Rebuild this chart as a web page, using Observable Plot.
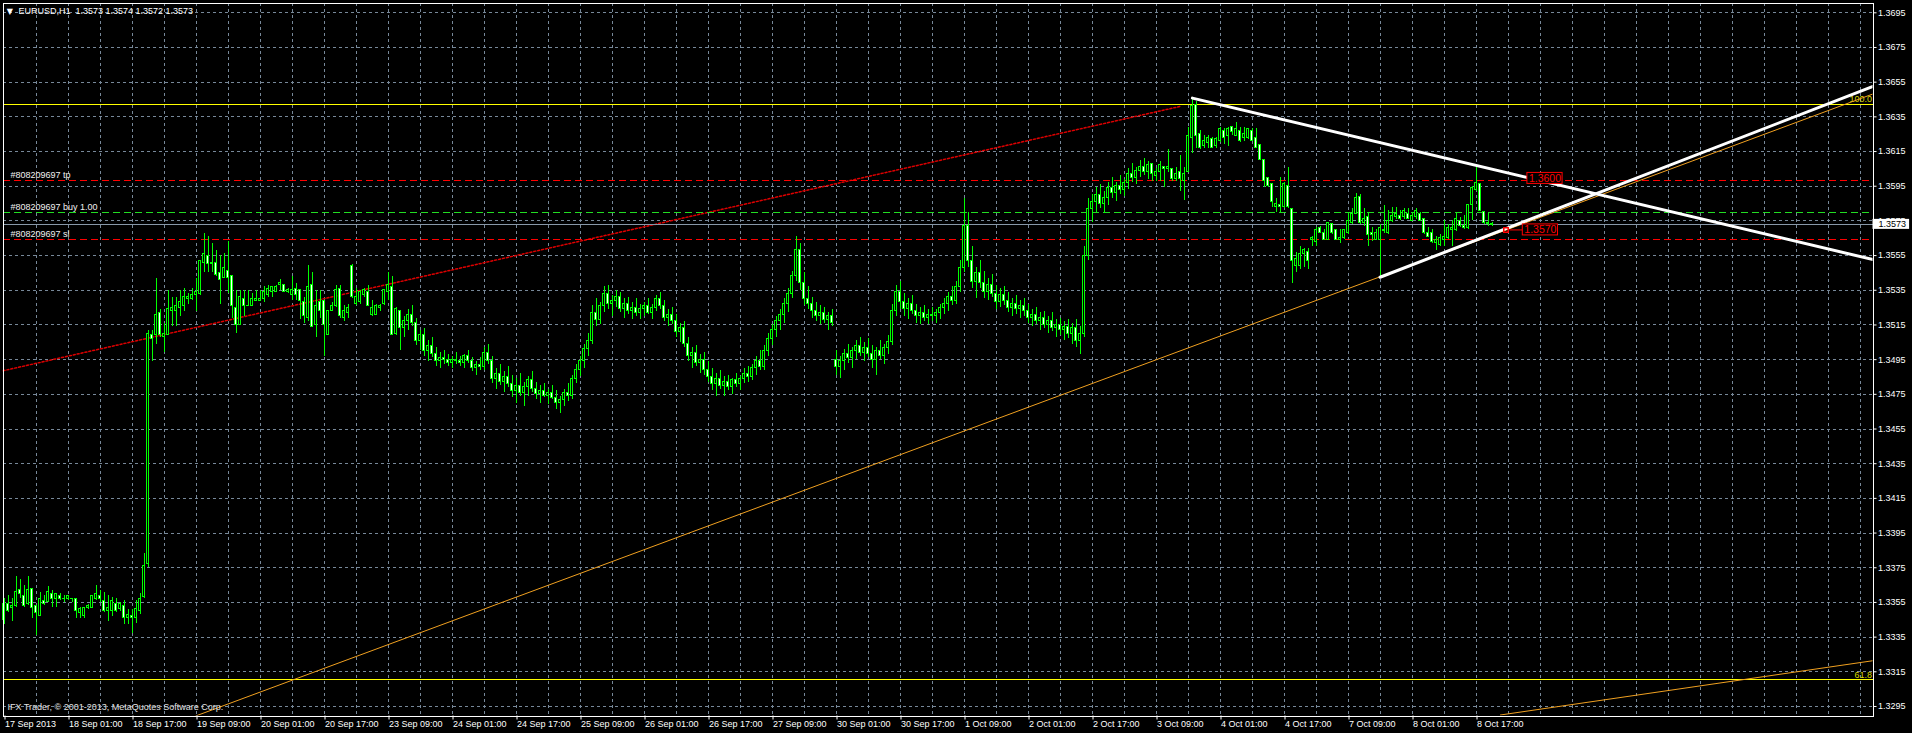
<!DOCTYPE html>
<html><head><meta charset="utf-8">
<script src="https://cdn.jsdelivr.net/npm/d3@7"></script>
<script src="https://cdn.jsdelivr.net/npm/@observablehq/plot@0.6"></script>
<style>
html,body{margin:0;padding:0;background:#000;overflow:hidden}
#chart svg{display:block}
</style></head><body><div id="chart"></div>
<script>
// ---- axis labels ----
const yTickLabels = ["1.3695","1.3675","1.3655","1.3635","1.3615","1.3595","1.3575","1.3555","1.3535","1.3515","1.3495","1.3475","1.3455","1.3435","1.3415","1.3395","1.3375","1.3355","1.3335","1.3315","1.3295"];
const xTickLabels = ["17 Sep 2013","18 Sep 01:00","18 Sep 17:00","19 Sep 09:00","20 Sep 01:00","20 Sep 17:00","23 Sep 09:00","24 Sep 01:00","24 Sep 17:00","25 Sep 09:00","26 Sep 01:00","26 Sep 17:00","27 Sep 09:00","30 Sep 01:00","30 Sep 17:00","1 Oct 09:00","2 Oct 01:00","2 Oct 17:00","3 Oct 09:00","4 Oct 01:00","4 Oct 17:00","7 Oct 09:00","8 Oct 01:00","8 Oct 17:00"];
const barsPerLabel = 16;
const titleText = "EURUSD,H1\u00a0 1.3573 1.3574 1.3572 1.3573";
const copyrightText = "IFX Trader, \u00a9 2001-2013, MetaQuotes Software Corp.";

// ---- candles (H1 bars, index 0 = 17 Sep 2013) ----
// bars 0-99
const openA = [1.3345,1.3354,1.3352,1.3353,1.3362,1.3359,1.3354,1.3363,1.3353,1.3347,
1.3356,1.3355,1.3360,1.3357,1.3359,1.3357,1.3357,1.3357,1.3357,1.3349,
1.3347,1.3352,1.3352,1.3357,1.3359,1.3356,1.3350,1.3350,1.3354,1.3351,
1.3353,1.3346,1.3347,1.3346,1.3350,1.3358,1.3377,1.3509,1.3509,1.3522,
1.3508,1.3509,1.3523,1.3523,1.3525,1.3526,1.3530,1.3530,1.3532,1.3533,
1.3551,1.3555,1.3550,1.3551,1.3545,1.3542,1.3546,1.3543,1.3525,1.3515,
1.3530,1.3526,1.3526,1.3529,1.3529,1.3530,1.3532,1.3534,1.3534,1.3538,
1.3538,1.3534,1.3532,1.3536,1.3535,1.3528,1.3519,1.3538,1.3515,1.3528,
1.3529,1.3509,1.3523,1.3526,1.3536,1.3519,1.3522,1.3549,1.3527,1.3528,
1.3532,1.3534,1.3521,1.3521,1.3525,1.3527,1.3534,1.3537,1.3510,1.3523];
const highA = [1.3357,1.3359,1.3357,1.3370,1.3368,1.3365,1.3370,1.3363,1.3353,1.3361,
1.3359,1.3364,1.3362,1.3360,1.3360,1.3359,1.3359,1.3357,1.3357,1.3352,
1.3352,1.3354,1.3359,1.3365,1.3362,1.3361,1.3359,1.3358,1.3357,1.3355,
1.3356,1.3351,1.3351,1.3356,1.3360,1.3383,1.3512,1.3512,1.3542,1.3524,
1.3516,1.3535,1.3531,1.3531,1.3535,1.3536,1.3533,1.3536,1.3542,1.3552,
1.3568,1.3566,1.3562,1.3558,1.3555,1.3556,1.3563,1.3543,1.3535,1.3535,
1.3535,1.3535,1.3533,1.3535,1.3535,1.3537,1.3538,1.3537,1.3538,1.3541,
1.3538,1.3536,1.3543,1.3539,1.3535,1.3531,1.3549,1.3545,1.3535,1.3535,
1.3529,1.3523,1.3528,1.3538,1.3538,1.3526,1.3527,1.3550,1.3536,1.3535,
1.3536,1.3538,1.3529,1.3527,1.3527,1.3535,1.3545,1.3543,1.3525,1.3523];
const lowA = [1.3342,1.3349,1.3344,1.3352,1.3357,1.3352,1.3353,1.3346,1.3336,1.3347,
1.3353,1.3355,1.3352,1.3352,1.3356,1.3355,1.3356,1.3355,1.3346,1.3346,
1.3346,1.3351,1.3352,1.3356,1.3355,1.3349,1.3344,1.3347,1.3349,1.3350,
1.3342,1.3342,1.3337,1.3343,1.3348,1.3357,1.3375,1.3494,1.3504,1.3508,
1.3499,1.3509,1.3514,1.3514,1.3520,1.3523,1.3527,1.3529,1.3523,1.3532,
1.3545,1.3545,1.3545,1.3543,1.3527,1.3542,1.3533,1.3519,1.3510,1.3515,
1.3520,1.3526,1.3526,1.3529,1.3529,1.3528,1.3531,1.3531,1.3534,1.3535,
1.3534,1.3533,1.3529,1.3529,1.3518,1.3516,1.3517,1.3514,1.3508,1.3519,
1.3497,1.3509,1.3523,1.3525,1.3519,1.3517,1.3519,1.3530,1.3526,1.3527,
1.3531,1.3526,1.3520,1.3521,1.3523,1.3526,1.3529,1.3509,1.3509,1.3500];
const closeA = [1.3354,1.3350,1.3353,1.3361,1.3360,1.3353,1.3362,1.3352,1.3349,1.3357,
1.3354,1.3361,1.3357,1.3360,1.3357,1.3357,1.3359,1.3357,1.3350,1.3351,
1.3352,1.3353,1.3359,1.3360,1.3357,1.3350,1.3352,1.3356,1.3350,1.3354,
1.3346,1.3348,1.3346,1.3351,1.3357,1.3376,1.3510,1.3507,1.3521,1.3509,
1.3510,1.3524,1.3525,1.3526,1.3528,1.3531,1.3531,1.3532,1.3534,1.3552,
1.3556,1.3550,1.3551,1.3544,1.3541,1.3548,1.3542,1.3526,1.3515,1.3531,
1.3526,1.3526,1.3530,1.3530,1.3530,1.3534,1.3536,1.3537,1.3537,1.3539,
1.3534,1.3535,1.3535,1.3532,1.3529,1.3520,1.3537,1.3514,1.3526,1.3523,
1.3515,1.3523,1.3526,1.3535,1.3520,1.3523,1.3525,1.3531,1.3531,1.3534,
1.3535,1.3526,1.3525,1.3526,1.3526,1.3535,1.3538,1.3509,1.3524,1.3513];
// bars 100-286
const openB = [1.3513,1.3517,1.3521,1.3516,1.3506,1.3509,1.3500,1.3503,1.3498,1.3494,
1.3496,1.3495,1.3493,1.3495,1.3494,1.3493,1.3497,1.3494,1.3490,1.3492,
1.3491,1.3499,1.3494,1.3484,1.3487,1.3482,1.3485,1.3481,1.3477,1.3480,
1.3476,1.3479,1.3483,1.3478,1.3475,1.3477,1.3474,1.3476,1.3473,1.3470,
1.3472,1.3476,1.3474,1.3484,1.3489,1.3494,1.3501,1.3506,1.3522,1.3518,
1.3526,1.3533,1.3527,1.3529,1.3531,1.3524,1.3527,1.3523,1.3525,1.3522,
1.3524,1.3526,1.3522,1.3525,1.3530,1.3526,1.3519,1.3521,1.3517,1.3511,
1.3513,1.3504,1.3497,1.3499,1.3493,1.3495,1.3489,1.3485,1.3481,1.3484,
1.3480,1.3482,1.3479,1.3483,1.3481,1.3484,1.3487,1.3485,1.3490,1.3494,
1.3491,1.3500,1.3507,1.3512,1.3517,1.3521,1.3527,1.3533,1.3543,1.3558,
1.3539,1.3530,1.3527,1.3523,1.3520,1.3522,1.3518,1.3520,1.3495,1.3491,
1.3494,1.3498,1.3496,1.3500,1.3503,1.3499,1.3502,1.3498,1.3495,1.3500,
1.3497,1.3502,1.3505,1.3523,1.3534,1.3528,1.3524,1.3527,1.3523,1.3520,
1.3522,1.3519,1.3521,1.3520,1.3522,1.3525,1.3527,1.3531,1.3529,1.3537,
1.3548,1.3572,1.3552,1.3540,1.3545,1.3539,1.3534,1.3538,1.3533,1.3528,
1.3532,1.3529,1.3525,1.3527,1.3524,1.3526,1.3523,1.3519,1.3521,1.3517,
1.3519,1.3515,1.3517,1.3513,1.3515,1.3512,1.3514,1.3510,1.3513,1.3506,
1.3510,1.3555,1.3582,1.3586,1.3590,1.3585,1.3588,1.3594,1.3591,1.3595,
1.3593,1.3597,1.3602,1.3600,1.3604,1.3606,1.3603];
const highB = [1.3520,1.3524,1.3526,1.3519,1.3512,1.3513,1.3506,1.3508,1.3502,1.3499,
1.3500,1.3498,1.3497,1.3499,1.3497,1.3498,1.3500,1.3496,1.3494,1.3496,
1.3502,1.3504,1.3497,1.3490,1.3492,1.3488,1.3491,1.3486,1.3484,1.3487,
1.3482,1.3485,1.3488,1.3482,1.3480,1.3481,1.3478,1.3480,1.3477,1.3474,
1.3478,1.3481,1.3486,1.3492,1.3497,1.3504,1.3510,1.3526,1.3530,1.3528,
1.3537,1.3538,1.3532,1.3535,1.3534,1.3530,1.3531,1.3528,1.3530,1.3527,
1.3528,1.3530,1.3527,1.3532,1.3534,1.3529,1.3524,1.3525,1.3521,1.3516,
1.3517,1.3508,1.3502,1.3503,1.3498,1.3499,1.3494,1.3490,1.3487,1.3489,
1.3485,1.3486,1.3484,1.3487,1.3485,1.3490,1.3491,1.3492,1.3497,1.3500,
1.3503,1.3510,1.3515,1.3520,1.3524,1.3530,1.3536,1.3546,1.3566,1.3562,
1.3545,1.3537,1.3531,1.3528,1.3526,1.3525,1.3522,1.3524,1.3500,1.3497,
1.3501,1.3504,1.3502,1.3506,1.3508,1.3505,1.3507,1.3503,1.3502,1.3506,
1.3504,1.3509,1.3527,1.3538,1.3540,1.3533,1.3530,1.3532,1.3527,1.3525,
1.3526,1.3524,1.3525,1.3524,1.3527,1.3530,1.3534,1.3537,1.3540,1.3552,
1.3588,1.3580,1.3560,1.3548,1.3552,1.3546,1.3542,1.3544,1.3538,1.3536,
1.3537,1.3534,1.3530,1.3532,1.3529,1.3530,1.3527,1.3524,1.3525,1.3522,
1.3523,1.3520,1.3522,1.3518,1.3519,1.3517,1.3518,1.3516,1.3518,1.3514,
1.3560,1.3588,1.3590,1.3594,1.3596,1.3592,1.3597,1.3600,1.3597,1.3601,
1.3599,1.3605,1.3608,1.3606,1.3610,1.3611,1.3609];
const lowB = [1.3508,1.3512,1.3514,1.3503,1.3500,1.3497,1.3494,1.3496,1.3491,1.3490,
1.3492,1.3491,1.3490,1.3492,1.3491,1.3490,1.3493,1.3488,1.3486,1.3489,
1.3489,1.3492,1.3481,1.3478,1.3480,1.3476,1.3479,1.3473,1.3470,1.3474,
1.3468,1.3474,1.3476,1.3472,1.3470,1.3473,1.3469,1.3472,1.3466,1.3464,
1.3468,1.3471,1.3472,1.3481,1.3485,1.3490,1.3497,1.3504,1.3514,1.3515,
1.3522,1.3524,1.3520,1.3525,1.3522,1.3519,1.3521,1.3518,1.3520,1.3518,
1.3520,1.3521,1.3518,1.3523,1.3524,1.3517,1.3514,1.3515,1.3508,1.3505,
1.3502,1.3494,1.3490,1.3491,1.3487,1.3486,1.3482,1.3477,1.3474,1.3478,
1.3474,1.3477,1.3475,1.3479,1.3477,1.3481,1.3482,1.3483,1.3486,1.3489,
1.3489,1.3497,1.3503,1.3508,1.3512,1.3516,1.3522,1.3530,1.3540,1.3535,
1.3526,1.3524,1.3519,1.3517,1.3515,1.3516,1.3512,1.3514,1.3486,1.3484,
1.3489,1.3493,1.3490,1.3495,1.3497,1.3494,1.3496,1.3490,1.3486,1.3495,
1.3492,1.3498,1.3503,1.3520,1.3524,1.3520,1.3518,1.3521,1.3516,1.3515,
1.3517,1.3515,1.3517,1.3516,1.3518,1.3521,1.3523,1.3526,1.3527,1.3534,
1.3545,1.3548,1.3536,1.3530,1.3536,1.3530,1.3529,1.3531,1.3524,1.3525,
1.3526,1.3522,1.3520,1.3521,1.3519,1.3520,1.3516,1.3514,1.3515,1.3512,
1.3513,1.3510,1.3511,1.3508,1.3509,1.3506,1.3507,1.3504,1.3502,1.3498,
1.3508,1.3552,1.3574,1.3580,1.3582,1.3579,1.3584,1.3588,1.3586,1.3590,
1.3589,1.3593,1.3597,1.3596,1.3600,1.3601,1.3599];
const closeB = [1.3517,1.3521,1.3516,1.3506,1.3509,1.3500,1.3503,1.3498,1.3494,1.3496,
1.3495,1.3493,1.3495,1.3494,1.3493,1.3497,1.3494,1.3490,1.3492,1.3491,
1.3499,1.3494,1.3484,1.3487,1.3482,1.3485,1.3481,1.3477,1.3480,1.3476,
1.3479,1.3483,1.3478,1.3475,1.3477,1.3474,1.3476,1.3473,1.3470,1.3472,
1.3476,1.3474,1.3484,1.3489,1.3494,1.3501,1.3506,1.3522,1.3518,1.3526,
1.3533,1.3527,1.3529,1.3531,1.3524,1.3527,1.3523,1.3525,1.3522,1.3524,
1.3526,1.3522,1.3525,1.3530,1.3526,1.3519,1.3521,1.3517,1.3511,1.3513,
1.3504,1.3497,1.3499,1.3493,1.3495,1.3489,1.3485,1.3481,1.3484,1.3480,
1.3482,1.3479,1.3483,1.3481,1.3484,1.3487,1.3485,1.3490,1.3494,1.3491,
1.3500,1.3507,1.3512,1.3517,1.3521,1.3527,1.3533,1.3543,1.3558,1.3539,
1.3530,1.3527,1.3523,1.3520,1.3522,1.3518,1.3520,1.3516,1.3491,1.3494,
1.3498,1.3496,1.3500,1.3503,1.3499,1.3502,1.3498,1.3495,1.3500,1.3497,
1.3502,1.3505,1.3523,1.3534,1.3528,1.3524,1.3527,1.3523,1.3520,1.3522,
1.3519,1.3521,1.3520,1.3522,1.3525,1.3527,1.3531,1.3529,1.3537,1.3548,
1.3572,1.3552,1.3540,1.3545,1.3539,1.3534,1.3538,1.3533,1.3528,1.3532,
1.3529,1.3525,1.3527,1.3524,1.3526,1.3523,1.3519,1.3521,1.3517,1.3519,
1.3515,1.3517,1.3513,1.3515,1.3512,1.3514,1.3510,1.3513,1.3506,1.3510,
1.3555,1.3582,1.3586,1.3590,1.3585,1.3588,1.3594,1.3591,1.3595,1.3593,
1.3597,1.3602,1.3600,1.3604,1.3606,1.3603,1.3607];
// bars 287-372
const openC = [1.3608,1.3601,1.3603,1.3606,1.3605,1.3605,1.3599,1.3603,1.3598,1.3603,
1.3623,1.3642,1.3625,1.3618,1.3620,1.3622,1.3618,1.3621,1.3627,1.3624,
1.3629,1.3624,1.3627,1.3623,1.3623,1.3627,1.3623,1.3619,1.3610,1.3600,
1.3596,1.3583,1.3584,1.3583,1.3595,1.3582,1.3549,1.3549,1.3556,1.3557,
1.3564,1.3563,1.3571,1.3568,1.3564,1.3573,1.3570,1.3564,1.3565,1.3568,
1.3574,1.3579,1.3589,1.3574,1.3577,1.3568,1.3564,1.3564,1.3570,1.3568,
1.3575,1.3577,1.3578,1.3577,1.3579,1.3575,1.3577,1.3579,1.3576,1.3568,
1.3568,1.3562,1.3561,1.3564,1.3565,1.3570,1.3570,1.3575,1.3572,1.3571,
1.3584,1.3593,1.3596,1.3580,1.3574,1.3573];
const highC = [1.3608,1.3605,1.3609,1.3606,1.3616,1.3605,1.3606,1.3613,1.3606,1.3629,
1.3646,1.3644,1.3627,1.3624,1.3624,1.3623,1.3623,1.3629,1.3628,1.3629,
1.3629,1.3632,1.3629,1.3629,1.3628,1.3628,1.3628,1.3619,1.3610,1.3600,
1.3596,1.3588,1.3600,1.3597,1.3606,1.3582,1.3557,1.3560,1.3559,1.3559,
1.3566,1.3571,1.3572,1.3570,1.3574,1.3573,1.3570,1.3570,1.3570,1.3579,
1.3582,1.3591,1.3590,1.3582,1.3580,1.3571,1.3570,1.3573,1.3584,1.3581,
1.3583,1.3583,1.3581,1.3582,1.3582,1.3580,1.3582,1.3580,1.3576,1.3571,
1.3570,1.3566,1.3567,1.3575,1.3573,1.3575,1.3579,1.3577,1.3578,1.3584,
1.3595,1.3606,1.3596,1.3580,1.3579,1.3574];
const lowC = [1.3598,1.3598,1.3598,1.3594,1.3603,1.3598,1.3598,1.3592,1.3587,1.3603,
1.3614,1.3617,1.3616,1.3617,1.3617,1.3617,1.3617,1.3620,1.3619,1.3618,
1.3624,1.3624,1.3620,1.3621,1.3622,1.3621,1.3617,1.3610,1.3594,1.3594,
1.3583,1.3580,1.3580,1.3582,1.3582,1.3539,1.3545,1.3547,1.3548,1.3547,
1.3560,1.3560,1.3568,1.3564,1.3564,1.3567,1.3564,1.3562,1.3564,1.3567,
1.3573,1.3579,1.3573,1.3572,1.3560,1.3563,1.3564,1.3542,1.3568,1.3567,
1.3574,1.3576,1.3575,1.3576,1.3576,1.3575,1.3576,1.3575,1.3567,1.3566,
1.3562,1.3558,1.3560,1.3560,1.3564,1.3560,1.3569,1.3571,1.3570,1.3570,
1.3575,1.3592,1.3581,1.3573,1.3572,1.3572];
const closeC = [1.3602,1.3603,1.3607,1.3605,1.3606,1.3599,1.3602,1.3599,1.3602,1.3624,
1.3641,1.3624,1.3617,1.3621,1.3623,1.3617,1.3622,1.3628,1.3623,1.3628,
1.3626,1.3628,1.3621,1.3625,1.3628,1.3621,1.3617,1.3610,1.3598,1.3595,
1.3586,1.3585,1.3583,1.3596,1.3583,1.3552,1.3553,1.3556,1.3558,1.3552,
1.3565,1.3570,1.3568,1.3564,1.3574,1.3568,1.3564,1.3565,1.3570,1.3575,
1.3579,1.3588,1.3574,1.3576,1.3567,1.3567,1.3568,1.3571,1.3569,1.3575,
1.3578,1.3579,1.3576,1.3581,1.3576,1.3578,1.3581,1.3575,1.3568,1.3566,
1.3563,1.3564,1.3565,1.3566,1.3571,1.3571,1.3576,1.3572,1.3571,1.3584,
1.3594,1.3597,1.3581,1.3574,1.3573,1.3573];
const open = [...openA, ...openB, ...openC];
const high = [...highA, ...highB, ...highC];
const low = [...lowA, ...lowB, ...lowC];
const close = [...closeA, ...closeB, ...closeC];

// ---- horizontal levels ----
const fibPrices = [1.36424, 1.33104];
const fibLabels = ["100.0", "61.8"];
const orderPrices = [1.35981, 1.35797, 1.35641];
const orderLabels = ["#808209697 tp", "#808209697 buy 1.00", "#808209697 sl"];
const orderColors = ["#ff0000", "#22dd22", "#ff0000"];
const bidPrice = 1.3573;
const bidLabel = "1.3573";

// ---- drawn objects (bar index, price) ----
const whiteDownX = [297.1, 467.25], whiteDownP = [1.36458, 1.35527];
const whiteUpX = [344, 467.25], whiteUpP = [1.35425, 1.36525];
const orangeAX = [47.9, 467.25], orangeAP = [1.32895, 1.36482];
const orangeBX = [374.1, 467.25], orangeBP = [1.32901, 1.33214];
const redDotX = [-0.25, 294.4], redDotP = [1.34886, 1.36412];
const tagLabels = ["1.3600", "1.3570"];
const tagX = [385.25, 384.1];
const tagP = [1.35995, 1.35698];

// ---- build tables ----
const candles = close.map((c, i) => ({i, o: open[i], h: high[i], l: low[i], c})).filter(d => d.c != null);
const seg = (id, xs, ps) => xs.map((x, k) => ({id, x, p: ps[k]}));
const whiteLines = [...seg("d", whiteDownX, whiteDownP), ...seg("u", whiteUpX, whiteUpP)];
const orangeLines = [...seg("a", orangeAX, orangeAP), ...seg("b", orangeBX, orangeBP)];
const redLine = seg("r", redDotX, redDotP);
const fibs = fibPrices.map((p, k) => ({p, label: fibLabels[k]}));
const orders = orderPrices.map((p, k) => ({p, label: orderLabels[k], color: orderColors[k]}));
const tags = tagLabels.map((t, k) => ({t, x: tagX[k], p: tagP[k]}));
const yTicks = yTickLabels.map(Number);
const xTickBars = xTickLabels.map((_, k) => k * barsPerLabel);
const xLabelOf = new Map(xTickBars.map((b, k) => [b, xTickLabels[k]]));
const gridBars = d3.range(8, 467, 8);

const X0 = -0.25, X1 = 467.25;
const LIME = "#00ff00", GRID = "#778899";
const px = 1 / 17342.5; // price per pixel

const chart = Plot.plot({
  width: 1912, height: 733,
  marginLeft: 2.5, marginRight: 39.5, marginTop: 2.5, marginBottom: 17.5,
  style: {background: "#000", color: "#fff", fontFamily: "'Liberation Sans', Arial, sans-serif", fontSize: "9px"},
  x: {type: "linear", domain: [X0, X1]},
  y: {type: "linear", domain: [1.328952, 1.370065]},
  color: {type: "identity"},
  marks: [
    Plot.ruleY(yTicks, {stroke: GRID, strokeDasharray: "3,3", shapeRendering: "crispEdges"}),
    Plot.ruleX(gridBars, {stroke: GRID, strokeDasharray: "3,3", shapeRendering: "crispEdges"}),
    // fibonacci levels
    Plot.ruleY(fibs, {y: "p", stroke: "#ffff00", shapeRendering: "crispEdges"}),
    Plot.text(fibs, {y: "p", x: X1, text: "label", textAnchor: "end", lineAnchor: "bottom", dx: -1, dy: -2, fill: "#d8d800"}),
    // trade history line
    Plot.line(redLine, {x: "x", y: "p", z: "id", stroke: "#dd0000", strokeDasharray: "2,2", clip: true}),
    // orange lines
    Plot.line(orangeLines, {x: "x", y: "p", z: "id", stroke: "#f0a020", strokeWidth: 1, clip: true}),
    // order lines
    Plot.ruleY(orders, {y: "p", stroke: "color", strokeDasharray: "7,4", shapeRendering: "crispEdges"}),
    Plot.ruleY([bidPrice], {stroke: "#8898a8", shapeRendering: "crispEdges"}),
    Plot.text(orders, {y: "p", text: "label", frameAnchor: "left", dx: 7.5, dy: -2.5, textAnchor: "start", lineAnchor: "bottom", fill: "#f0f0f0"}),
    // candles
    Plot.ruleX(candles, {x: "i", y1: "l", y2: "h", stroke: LIME, shapeRendering: "crispEdges"}),
    Plot.rect(candles, {
      x1: d => d.i - 0.25, x2: d => d.i + 0.25,
      y1: "o", y2: d => d.c === d.o ? d.c - 0.00001 : d.c,
      fill: d => d.c >= d.o ? "#000000" : "#ffffff",
      stroke: LIME, shapeRendering: "crispEdges"
    }),
    // white trend lines
    Plot.line(whiteLines, {x: "x", y: "p", z: "id", stroke: "#ffffff", strokeWidth: 3, clip: true}),
    // price tags
    Plot.rect(tags, {x1: d => d.x - 4.4, x2: d => d.x + 4.4, y1: d => d.p - 5.5 * px, y2: d => d.p + 5.5 * px, fill: "#000", stroke: "#ff0000"}),
    Plot.text(tags, {x: "x", y: "p", text: "t", fill: "#ff0000", fontSize: 10.5}),
    Plot.dot([tags[1]], {x: d => d.x - 8.6, y: "p", symbol: "square", r: 2.5, stroke: "#ff0000", fill: "none"}),
    Plot.ruleY([tags[1]], {y: "p", x1: d => d.x - 7.6, x2: d => d.x - 4.4, stroke: "#ff0000"}),
    // frame + axes
    Plot.frame({stroke: "#ffffff", shapeRendering: "crispEdges"}),
    Plot.axisY({ticks: yTicks, anchor: "right", tickSize: 3, tickPadding: 2, tickFormat: d => d.toFixed(4), fill: "#fff", stroke: "#fff"}),
    Plot.rect([bidPrice], {x1: X1, x2: 476.4, y1: d => d - 5 * px, y2: d => d + 5 * px, fill: "#ffffff"}),
    Plot.text([bidPrice], {x: X1, y: d => d, text: () => bidLabel, textAnchor: "start", dx: 5.5, fill: "#000"}),
    Plot.axisX({ticks: xTickBars, anchor: "bottom", tickSize: 4, tickPadding: 1, tickFormat: d => xLabelOf.get(d), textAnchor: "start", dx: 1, fill: "#fff", stroke: "#fff"}),
    // title & copyright
    Plot.text(["\u25bc"], {frameAnchor: "top-left", dx: 6.8, dy: 11, textAnchor: "middle", lineAnchor: "bottom", fontSize: 8, fontFamily: "DejaVu Sans", fill: "#fff"}),
    Plot.text([titleText], {frameAnchor: "top-left", dx: 15.5, dy: 5, textAnchor: "start", lineAnchor: "top", fill: "#fff"}),
    Plot.text([copyrightText], {frameAnchor: "bottom-left", dx: 4.5, dy: -6.5, textAnchor: "start", lineAnchor: "bottom", fill: "#e0e0e0"})
  ]
});
document.getElementById("chart").appendChild(chart);
</script>
</body></html>
